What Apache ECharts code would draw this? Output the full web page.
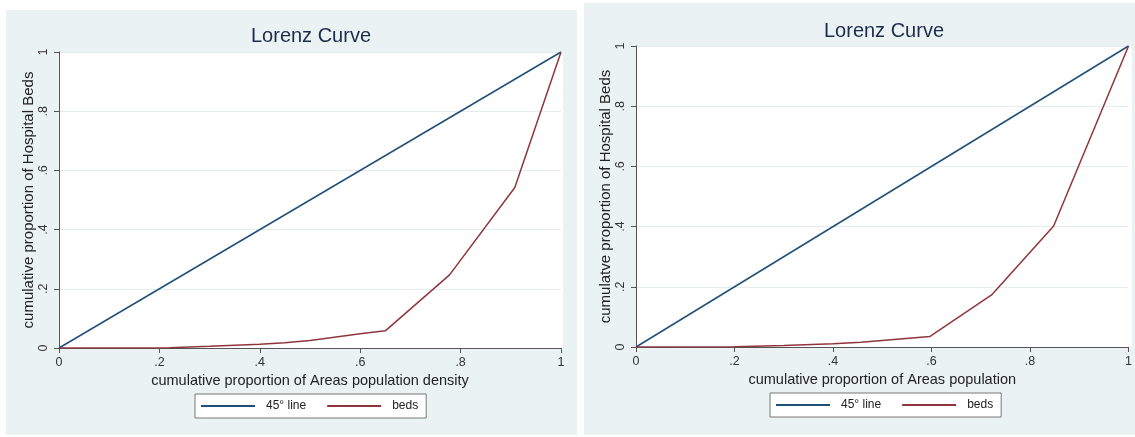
<!DOCTYPE html>
<html>
<head>
<meta charset="utf-8">
<script src="https://cdn.jsdelivr.net/npm/echarts@6/dist/echarts.min.js"></script>
<style>
html,body{margin:0;padding:0;background:#fff;}
#chart{width:1135px;height:437px;}
</style>
</head>
<body>
<div id="chart"></div>
<script>
// ---- data ----
const seriesNames = ['45° line', 'beds'];
const chartTitle = 'Lorenz Curve';
const leftXTitle = 'cumulative proportion of Areas population density';
const leftYTitle = 'cumulative proportion of Hospital Beds';
const rightXTitle = 'cumulative proportion of Areas population';
const rightYTitle = 'cumulatve proportion of Hospital Beds';

const equalityX = [0, 1];
const equalityY = [0, 1];

const densityX    = [0, 0.2, 0.22, 0.3, 0.4, 0.45, 0.5, 0.6, 0.65, 0.778, 0.908, 1];
const densityBeds = [0, 0, 0.001, 0.006, 0.013, 0.018, 0.025, 0.048, 0.058, 0.247, 0.542, 1];

const populationX    = [0, 0.2, 0.3, 0.4, 0.457, 0.597, 0.722, 0.848, 1];
const populationBeds = [0, 0.001, 0.005, 0.011, 0.016, 0.035, 0.173, 0.402, 1];

// ---- helpers ----
const zip = (xs, ys) => xs.map((x, i) => [x, ys[i]]);
const BLUE = '#224f78', RED = '#90353b', PANEL = '#eaf2f3', GRIDC = '#e3edf0', AXIS = '#555';
const FONT = 'Liberation Sans, Arial, sans-serif';
const fmt = v => (v === 0 ? '0' : Math.abs(v - 1) < 1e-9 ? '1' : '.' + Math.round(v * 10));

function xAx(grid, name, gap) {
  return {
    type: 'value', gridIndex: grid, min: 0, max: 1, interval: 0.2,
    name: name, nameLocation: 'middle', nameGap: gap,
    nameTextStyle: {fontFamily: FONT, fontSize: 14.5, color: '#222'},
    axisLine: {show: true, lineStyle: {color: AXIS, width: 1}},
    axisTick: {show: true, length: 5, lineStyle: {color: AXIS}},
    axisLabel: {formatter: fmt, fontFamily: FONT, fontSize: 12.5, color: '#333', margin: 8},
    splitLine: {show: false}
  };
}
function yAx(grid, name, gap) {
  return {
    type: 'value', gridIndex: grid, min: 0, max: 1, interval: 0.2,
    name: name, nameLocation: 'middle', nameGap: gap,
    nameTextStyle: {fontFamily: FONT, fontSize: 15, color: '#222'},
    axisLine: {show: true, lineStyle: {color: AXIS, width: 1}},
    axisTick: {show: true, length: 5, lineStyle: {color: AXIS}},
    axisLabel: {formatter: fmt, rotate: 90, fontFamily: FONT, fontSize: 12.5, color: '#333', margin: 9},
    splitLine: {show: true, lineStyle: {color: GRIDC, width: 1}}
  };
}
function legend(left, top, gapText) {
  return {
    left: left, top: top, orient: 'horizontal',
    data: seriesNames,
    icon: 'rect', itemWidth: 54, itemHeight: 2, itemGap: 21,
    borderColor: '#777', borderWidth: 1, borderRadius: 0,
    backgroundColor: '#fff',
    padding: [6, 8, 6, 6],
    textStyle: {fontFamily: FONT, fontSize: 12, color: '#222', padding: [0, 0, 0, gapText]}
  };
}
function line(name, data, color, xi) {
  return {
    name: name, type: 'line', xAxisIndex: xi, yAxisIndex: xi, data: data,
    showSymbol: false, symbol: 'none', animation: false,
    lineStyle: {color: color, width: 1.5}, itemStyle: {color: color}
  };
}

const chart = echarts.init(document.getElementById('chart'), null, {renderer: 'canvas'});
chart.setOption({
  animation: false,
  backgroundColor: '#fff',
  graphic: [
    {type: 'rect', z: -10, shape: {x: 6, y: 10, width: 571, height: 425}, style: {fill: PANEL}},
    {type: 'rect', z: -10, shape: {x: 584, y: 3, width: 551, height: 432}, style: {fill: PANEL}},
    {type: 'rect', z: -9, shape: {x: 59, y: 52, width: 504, height: 296}, style: {fill: '#fff'}},
    {type: 'rect', z: -9, shape: {x: 636, y: 46, width: 496, height: 301}, style: {fill: '#fff'}}
  ],
  title: [
    {text: chartTitle, left: 311, top: 26, textAlign: 'center', padding: 0,
     textStyle: {fontFamily: FONT, fontSize: 20, fontWeight: 'normal', color: '#1c2b4a'}},
    {text: chartTitle, left: 884, top: 21, textAlign: 'center', padding: 0,
     textStyle: {fontFamily: FONT, fontSize: 20, fontWeight: 'normal', color: '#1c2b4a'}}
  ],
  legend: [legend(195, 394, 6), legend(770, 393, 6)],
  grid: [
    {left: 59, top: 52, width: 502, height: 296, containLabel: false, show: false},
    {left: 636, top: 46, width: 494, height: 301, containLabel: false, show: false}
  ],
  xAxis: [xAx(0, leftXTitle, 22), xAx(1, rightXTitle, 22)],
  yAxis: [yAx(0, leftYTitle, 22), yAx(1, rightYTitle, 19)],
  series: [
    line(seriesNames[0], zip(equalityX, equalityY), BLUE, 0),
    line(seriesNames[1], zip(densityX, densityBeds), RED, 0),
    line(seriesNames[0], zip(equalityX, equalityY), BLUE, 1),
    line(seriesNames[1], zip(populationX, populationBeds), RED, 1)
  ]
});
</script>
</body>
</html>
